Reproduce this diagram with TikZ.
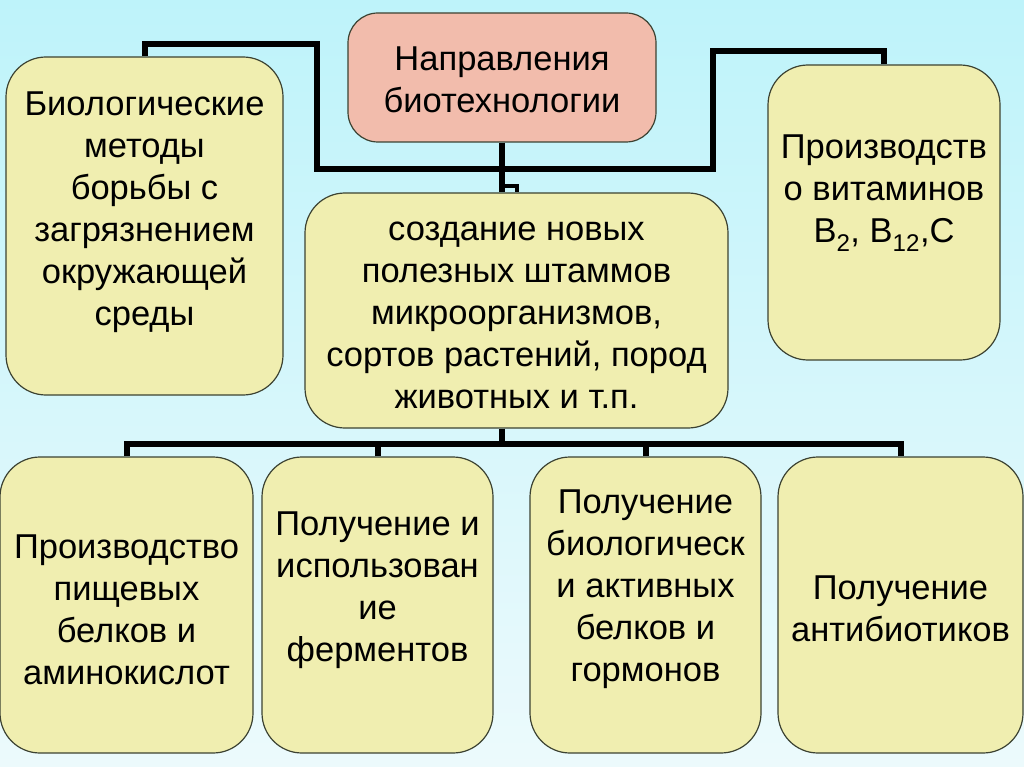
\documentclass[tikz,border=0pt]{standalone}
\usepackage{fontspec}
\setmainfont{Liberation Sans}
\definecolor{bgtop}{RGB}{190,243,250}
\definecolor{bgbot}{RGB}{236,250,252}
\definecolor{boxfill}{RGB}{240,238,176}
\definecolor{headfill}{RGB}{242,188,172}
\definecolor{boxline}{RGB}{60,66,50}
\tikzset{
    box/.style={draw=boxline, line width=1.2pt, fill=boxfill, rounded corners=40pt, inner sep=0pt},
    txt/.style={align=center, font=\fontsize{34.5}{42}\selectfont, text=black},
    link/.style={line width=6pt, draw=black}
}
\begin{document}
\begin{tikzpicture}[x=1pt, y=-1pt]
        \useasboundingbox (0,0) rectangle (1024,767);
        \shade[top color=bgtop, bottom color=bgbot] (0,0) rectangle (1024,767);

        % boxes
        \node[box, fill=headfill, rounded corners=30pt, minimum width=308pt, minimum height=129pt] (napr) at (502,77.5) {};
        \node[box, minimum width=277pt, minimum height=338pt] (bio) at (144.5,226) {};
        \node[box, minimum width=232pt, minimum height=295pt] (vit) at (884,212.5) {};
        \node[box, minimum width=423pt, minimum height=235pt] (shtamm) at (516.5,310.5) {};
        \node[box, minimum width=253pt, minimum height=296pt] (belki) at (126.5,605) {};
        \node[box, minimum width=231pt, minimum height=296pt] (ferm) at (377.5,605) {};
        \node[box, minimum width=231pt, minimum height=296pt] (gorm) at (645.5,605) {};
        \node[box, minimum width=245pt, minimum height=296pt] (antib) at (900.5,605) {};

        % texts
        \node[txt] (naprT) at (502,80) {Направления\\биотехнологии};
        \node[txt] (bioT) at (144.5,212) {Биологические\\методы\\борьбы с\\загрязнением\\окружающей\\среды};
        \node[txt] (vitT) at (884,193) {Производств\\о витаминов\\B\textsubscript{2}, B\textsubscript{12},C};
        \node[txt] (shtammT) at (516.5,315) {создание новых\\полезных штаммов\\микроорганизмов,\\сортов растений, пород\\животных и т.п.};
        \node[txt] (belkiT) at (126.5,610) {Производство\\пищевых\\белков и\\аминокислот};
        \node[txt] (fermT) at (377.5,590) {Получение и\\использован\\ие\\ферментов};
        \node[txt] (gormT) at (645.5,589) {Получение\\биологическ\\и активных\\белков и\\гормонов};
        \node[txt] (antibT) at (900.5,609) {Получение\\антибиотиков};

        % connectors
        \path (napr.south) ++(0,26) coordinate (upknot);
        \path (napr.south) ++(0,43) coordinate (jog);
        \path (napr.south |- shtamm.south) ++(0,15) coordinate (downknot);

        \draw[link] (napr.south) -- (napr.south |- shtamm.north);
        \draw[link, line width=4pt] (jog) -| (shtamm.north);
        \draw[link] (bio.north) |- (317,44.5) |- (upknot);
        \draw[link] (vit.north) |- (713,51) |- (upknot);

        \draw[link] (napr.south |- shtamm.south) -- (downknot);
        \draw[link] (belki.north) |- (downknot);
        \draw[link] (antib.north) |- (downknot);
        \foreach \b in {ferm, gorm} {
            \draw[link] (\b.north) -- (\b.north |- downknot);
        }
    \end{tikzpicture}
\end{document}
